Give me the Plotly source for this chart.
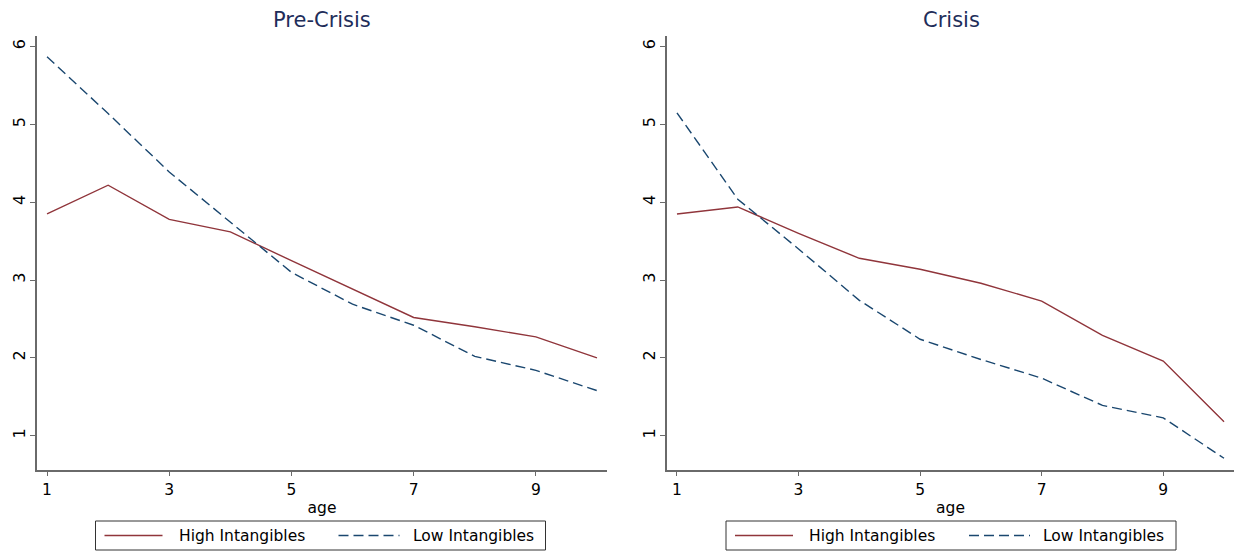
import plotly.graph_objects as go

# Firm age (years) on the horizontal axis
age = [1, 2, 3, 4, 5, 6, 7, 8, 9, 10]

# Pre-Crisis panel
pre_high = [3.85, 4.22, 3.78, 3.62, 3.25, 2.89, 2.52, 2.40, 2.27, 2.00]
pre_low = [5.87, 5.14, 4.39, 3.75, 3.10, 2.69, 2.42, 2.02, 1.84, 1.58]

# Crisis panel
cri_high = [3.85, 3.94, 3.60, 3.28, 3.14, 2.96, 2.73, 2.29, 1.96, 1.18]
cri_low = [5.15, 4.04, 3.40, 2.74, 2.24, 1.98, 1.74, 1.39, 1.23, 0.71]

panel_titles = ["Pre-Crisis", "Crisis"]
series_names = ["High Intangibles", "Low Intangibles"]
x_ticks = [1, 3, 5, 7, 9]
y_ticks = [1, 2, 3, 4, 5, 6]

W, H = 1234, 554
MAROON = "#90353B"
NAVY = "#1A476F"
AXIS = "#6a6a6a"
FONT = "DejaVu Sans"
DASH = "10px,5px"


def px_x(p):
    return p / W


def px_y(p):
    return 1 - p / H


fig = go.Figure()

panels = [
    ("x", "y", pre_high, pre_low),
    ("x2", "y2", cri_high, cri_low),
]
for xa, ya, hi, lo in panels:
    fig.add_trace(go.Scatter(
        x=age, y=hi, mode="lines", name=series_names[0],
        line=dict(color=MAROON, width=1.4),
        xaxis=xa, yaxis=ya, showlegend=False,
    ))
    fig.add_trace(go.Scatter(
        x=age, y=lo, mode="lines", name=series_names[1],
        line=dict(color=NAVY, width=1.4, dash=DASH),
        xaxis=xa, yaxis=ya, showlegend=False,
    ))

y_dom = [px_y(469.5), px_y(36)]
x_doms = [[px_x(37), px_x(607)], [px_x(667), px_x(1234)]]

common_x = dict(
    range=[0.836, 10.164], tickvals=x_ticks, ticks="outside", ticklen=5,
    tickwidth=1.2, tickcolor=AXIS, showline=True, linecolor=AXIS,
    linewidth=1.5, showgrid=False, zeroline=False,
    tickfont=dict(family=FONT, size=15.5, color="black"),
    title=dict(text="age", font=dict(family=FONT, size=15.5, color="black"),
               standoff=4),
)
common_y = dict(
    range=[0.566, 6.137], tickvals=y_ticks, ticks="outside", ticklen=5,
    tickwidth=1.2, tickcolor=AXIS, showline=True, linecolor=AXIS,
    linewidth=1.5, showgrid=False, zeroline=False, tickangle=-90,
    tickfont=dict(family=FONT, size=16, color="black"),
    ticklabelstandoff=-1,
    domain=y_dom,
)

# Boxed key under each panel, laid out around the panel's centre
shapes, annotations = [], []
key_top, key_bottom, key_mid = 521, 550, 535.5
for cx in (320.5, 951):
    shapes.append(dict(type="rect", xref="paper", yref="paper",
                       x0=px_x(cx - 225), x1=px_x(cx + 225),
                       y0=px_y(key_bottom), y1=px_y(key_top),
                       line=dict(color="#333333", width=1),
                       fillcolor="white", layer="above"))
    shapes.append(dict(type="line", xref="paper", yref="paper",
                       x0=px_x(cx - 216), x1=px_x(cx - 158),
                       y0=px_y(key_mid), y1=px_y(key_mid),
                       line=dict(color=MAROON, width=1.4)))
    shapes.append(dict(type="line", xref="paper", yref="paper",
                       x0=px_x(cx + 18), x1=px_x(cx + 79),
                       y0=px_y(key_mid), y1=px_y(key_mid),
                       line=dict(color=NAVY, width=1.4, dash=DASH)))
    for name, left in ((series_names[0], cx - 144), (series_names[1], cx + 90)):
        annotations.append(dict(text=name, x=px_x(left), y=px_y(key_mid),
                                xref="paper", yref="paper", xanchor="left",
                                yanchor="middle", showarrow=False,
                                font=dict(family=FONT, size=15.5,
                                          color="black")))

for title, cx in zip(panel_titles, (322, 951)):
    annotations.append(dict(text=title, x=px_x(cx), y=px_y(20), xref="paper",
                            yref="paper", xanchor="center", yanchor="middle",
                            showarrow=False,
                            font=dict(family=FONT, size=21, color="#1e2d5a")))

fig.update_layout(
    width=W, height=H,
    margin=dict(l=0, r=0, t=0, b=0),
    paper_bgcolor="white", plot_bgcolor="white",
    font=dict(family=FONT),
    showlegend=False,
    xaxis=dict(common_x, domain=x_doms[0], anchor="y"),
    yaxis=dict(common_y, anchor="x"),
    xaxis2=dict(common_x, domain=x_doms[1], anchor="y2"),
    yaxis2=dict(common_y, anchor="x2"),
    shapes=shapes,
    annotations=annotations,
)

fig.write_html("out.html")
